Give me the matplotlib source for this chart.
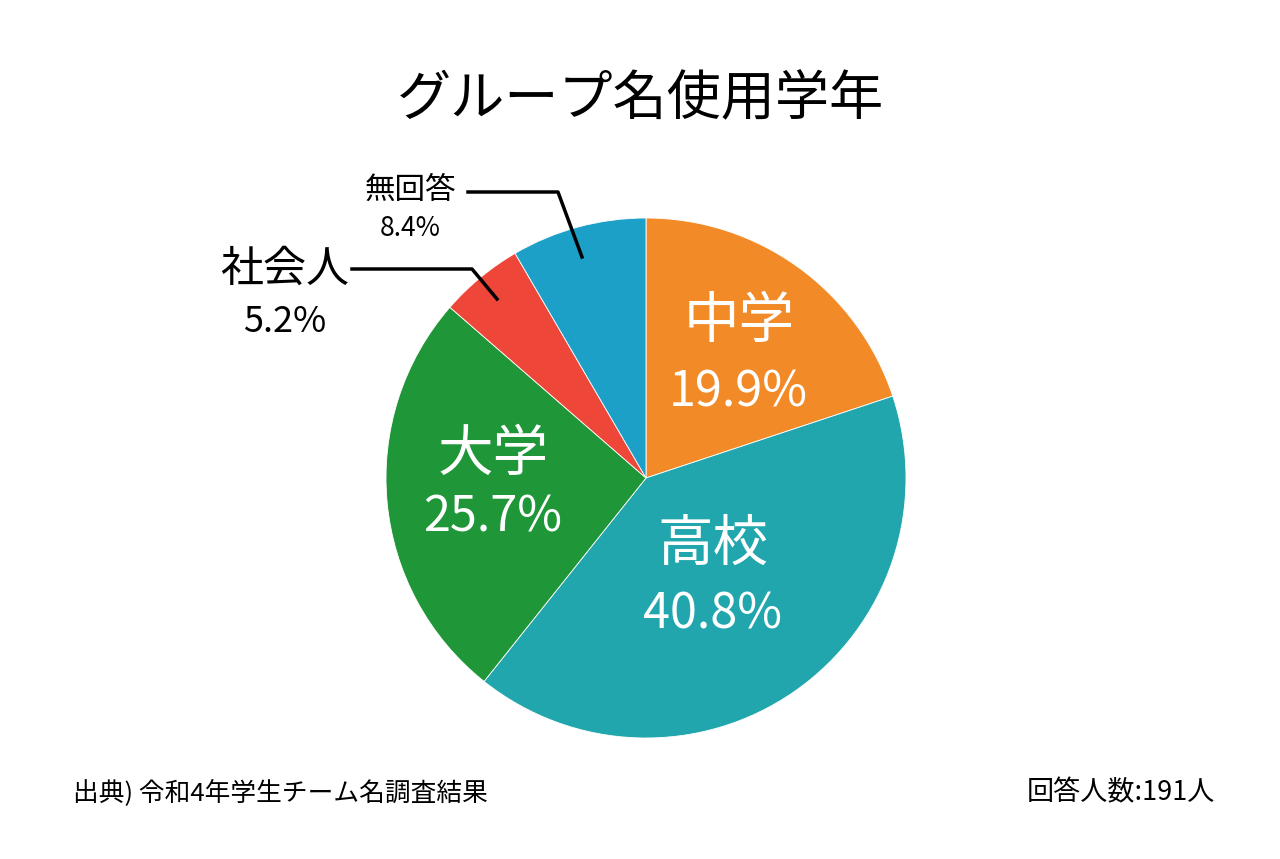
import matplotlib.pyplot as plt

plt.rcParams['font.family'] = ['Noto Sans CJK JP', 'DejaVu Sans']

labels = ['中学', '高校', '大学', '社会人', '無回答']
shares = [19.9, 40.8, 25.7, 5.2, 8.4]
colors = ['#F28A28', '#22A6AD', '#1F9638', '#EF463A', '#1CA0C8']

W, H = 1280, 859
fig = plt.figure(figsize=(12.8, 8.59), dpi=100)
ax = fig.add_axes([0, 0, 1, 1])

cx, cy, r = 646, H - 478, 260
ax.pie(shares, colors=colors, startangle=90, counterclock=False,
       center=(cx, cy), radius=r, frame=True,
       wedgeprops=dict(edgecolor='white', linewidth=0.6))
ax.set_xlim(0, W)
ax.set_ylim(0, H)
ax.set_aspect('equal')
ax.axis('off')

def put(x, y, s, size, color='black', ha='center'):
    ax.text(x, H - y, s, fontsize=size, color=color, ha=ha, va='center')

# inside labels
put(739, 322, labels[0], 40, 'white')
put(738, 393, '%.1f%%' % shares[0], 35, 'white')
put(713, 545, labels[1], 40, 'white')
put(713, 615, '%.1f%%' % shares[1], 35, 'white')
put(493, 455, labels[2], 40, 'white')
put(493, 518, '%.1f%%' % shares[2], 35, 'white')

# outside labels
put(285, 270, labels[3], 31)
put(285, 322, '%.1f%%' % shares[3], 26)
put(410, 190, labels[4], 22)
put(410, 228, '%.1f%%' % shares[4], 19)

# leader lines
ax.plot([352, 472, 497], [H - 269, H - 269, H - 299], color='black', lw=2.5)
ax.plot([468, 558, 582], [H - 192, H - 192, H - 257], color='black', lw=2.5)

put(640, 100, 'グループ名使用学年', 39)
put(73, 793, '出典) 令和4年学生チーム名調査結果', 18.5, ha='left')
put(1215, 793, '回答人数:191人', 19.5, ha='right')

fig.savefig('out.png', dpi=100, facecolor='white')
